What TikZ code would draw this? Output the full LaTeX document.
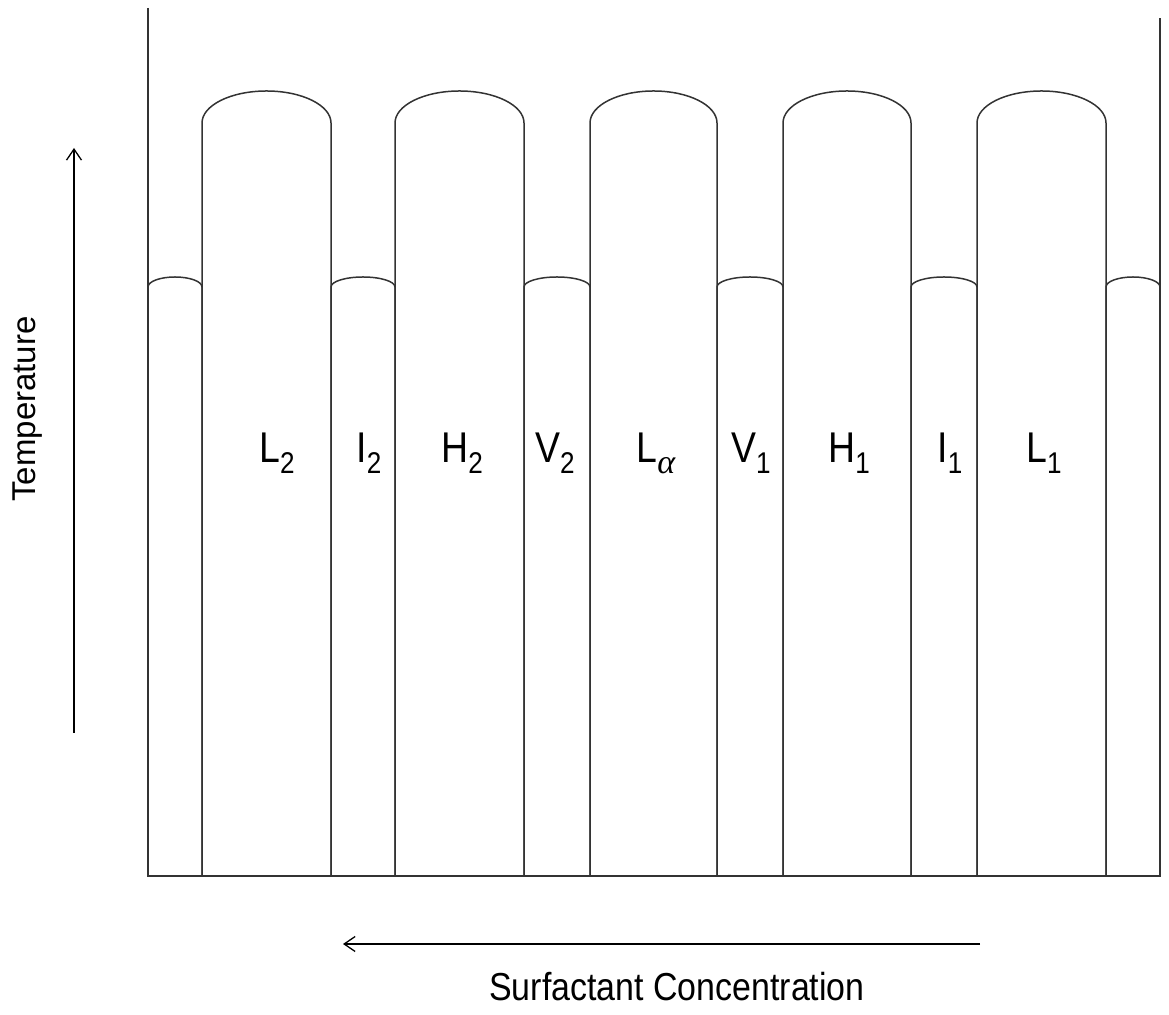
\documentclass[tikz,border=0pt]{standalone}
\usepackage{fontspec}
\setmainfont{Liberation Sans}
\newfontfamily\narrowsans{Liberation Sans}[FakeStretch=0.87]
\newfontfamily\greekit{Liberation Serif}
\usetikzlibrary{arrows.meta}

% phase label: main letter with lowered subscript
\newcommand{\phaselabel}[2]{{\narrowsans\fontsize{43}{46}\selectfont #1\raisebox{-11pt}{\fontsize{30}{32}\selectfont #2}}}

\tikzset{
  line/.style={draw=black!80, line width=1.5pt},
  axisarrow/.style={draw=black, line width=1.3pt, -{Straight Barb[length=11pt,width=15pt,line width=1.3pt]}},
  phase/.style={anchor=base, inner sep=0pt},
}

\begin{document}
\begin{tikzpicture}[x=1pt, y=1pt]
\useasboundingbox (0,0) rectangle (1169,1014);

% frame: left axis, floor, right edge
\draw[line] (148,1006) -- (148,138) -- (1160,138) -- (1160,996);

% tall phase columns (rounded tops)
\foreach \xa/\xb in {202/331, 395/524, 590/717, 783/911, 977/1106}{
  \pgfmathsetmacro{\rx}{(\xb-\xa)/2}
  \draw[line] (\xa,138) -- (\xa,891) arc[start angle=180, end angle=0, x radius=\rx pt, y radius=32pt] -- (\xb,138);
}

% short phase columns (low rounded tops)
\foreach \xa/\xb in {148/202, 331/395, 524/590, 717/783, 911/977, 1106/1160}{
  \pgfmathsetmacro{\rx}{(\xb-\xa)/2}
  \draw[line] (\xa,138) -- (\xa,727) arc[start angle=180, end angle=0, x radius=\rx pt, y radius=10pt] -- (\xb,138);
}

% phase names
\node[phase] (l2) at (277,551) {\phaselabel{L}{2}};
\node[phase] (i2) at (369,551) {\phaselabel{I}{2}};
\node[phase] (h2) at (462,551) {\phaselabel{H}{2}};
\node[phase] (v2) at (555,551) {\phaselabel{V}{2}};
\node[phase] (la) at (656,551) {\phaselabel{L}{\fontsize{34}{36}\greekit\itshape α}};
\node[phase] (v1) at (751,551) {\phaselabel{V}{1}};
\node[phase] (h1) at (849,551) {\phaselabel{H}{1}};
\node[phase] (i1) at (950,551) {\phaselabel{I}{1}};
\node[phase] (l1) at (1044,551) {\phaselabel{L}{1}};

% temperature axis
\coordinate (tbot) at (74,281);
\coordinate (ttop) at (74,866);
\draw[axisarrow] (tbot) -- (ttop);
\node[rotate=90, inner sep=0pt, font=\fontsize{33}{36}\selectfont] (tlabel) at (28,605) {Temperature};

% concentration axis
\coordinate (cstart) at (980,70);
\coordinate (cend) at (343,70);
\draw[axisarrow] (cstart) -- (cend);
\node[anchor=base, inner sep=0pt, font=\narrowsans\fontsize{39}{42}\selectfont] (clabel) at (677,14) {Surfactant Concentration};
\end{tikzpicture}
\end{document}
